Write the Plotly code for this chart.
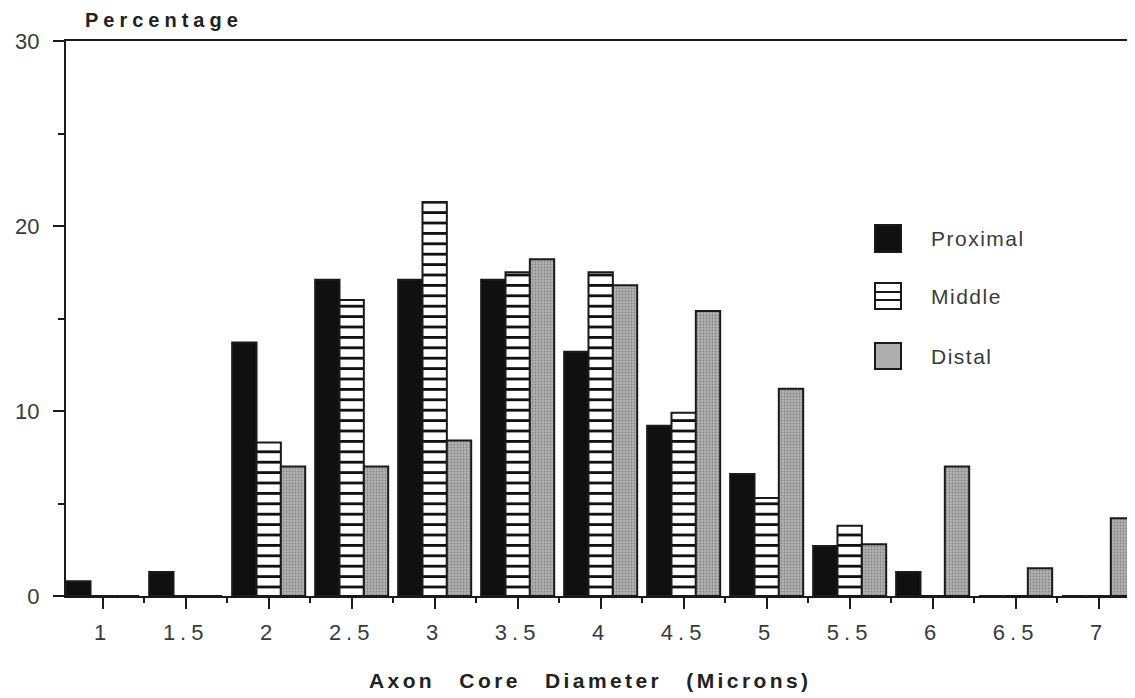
import plotly.graph_objects as go

# ---- data ----
diameters = [1, 1.5, 2, 2.5, 3, 3.5, 4, 4.5, 5, 5.5, 6, 6.5, 7]
tick_labels = ["1", "1.5", "2", "2.5", "3", "3.5", "4", "4.5", "5", "5.5", "6", "6.5", "7"]
proximal = [0.8, 1.3, 13.7, 17.1, 17.1, 17.1, 13.2, 9.2, 6.6, 2.7, 1.3, 0, 0]
middle = [0, 0, 8.3, 16.0, 21.3, 17.5, 17.5, 9.9, 5.3, 3.8, 0, 0, 0]
distal = [0, 0, 7.0, 7.0, 8.4, 18.2, 16.8, 15.4, 11.2, 2.8, 7.0, 1.5, 4.2]
series_names = ["Proximal", "Middle", "Distal"]
y_ticks = [0, 10, 20, 30]

# page has an 8px body margin: the figure is sized so it fits the window
OFF = 8
W, H = 1135 - OFF, 698 - OFF
L, R, T, B = 66 - OFF, 0, 41 - OFF, 698 - 596
PW, PH = W - L - R, H - T - B

def px(x):
    return (x - OFF - L) / PW

def py(y):
    return (H - B - (y - OFF)) / PH

FONT = "Liberation Sans, Arial, sans-serif"
INK = "#1a1a1a"
TXT = "#3a3a3a"

fig = go.Figure()
fig.add_trace(go.Bar(
    x=diameters, y=proximal, name=series_names[0],
    marker=dict(color="#101010", line=dict(color=INK, width=2)),
))
fig.add_trace(go.Bar(
    x=diameters, y=middle, name=series_names[1],
    marker=dict(color="white", line=dict(color=INK, width=2),
                pattern=dict(shape="-", fgcolor="#111111", bgcolor="white",
                             size=10.4, solidity=0.27, fillmode="replace")),
))
fig.add_trace(go.Bar(
    x=diameters, y=distal, name=series_names[2],
    marker=dict(color="#aeaeae", line=dict(color=INK, width=2),
                pattern=dict(shape=".", fgcolor="#858585", bgcolor="#b2b2b2",
                             size=3, solidity=0.28, fillmode="replace")),
))

def spaced(t, ls):
    return '<span style="letter-spacing:%spx">%s</span>' % (ls, t)

fig.update_layout(
    width=W, height=H,
    margin=dict(l=L, r=R, t=T, b=B, pad=0),
    paper_bgcolor="white", plot_bgcolor="white",
    barmode="group", bargap=0.12, bargroupgap=0,
    showlegend=False,
    font=dict(family=FONT, color=TXT, size=22),
)
fig.update_xaxes(
    range=[0.779, 7.219],
    tickmode="array", tickvals=diameters,
    ticktext=[spaced(t, 5) for t in tick_labels],
    ticks="outside", ticklen=11, tickwidth=2, tickcolor=INK,
    ticklabelstandoff=5,
    minor=dict(tickmode="linear", tick0=0.75, dtick=0.5, ticks="outside",
               ticklen=5, tickwidth=2, tickcolor=INK),
    showline=True, linewidth=2, linecolor=INK, mirror=True,
    showgrid=False, zeroline=False,
    tickfont=dict(family=FONT, size=22, color=TXT),
)
fig.update_yaxes(
    range=[0, 30],
    tickmode="array", tickvals=y_ticks, ticktext=[str(v) for v in y_ticks],
    ticks="outside", ticklen=11, tickwidth=2, tickcolor=INK,
    ticklabelstandoff=9,
    minor=dict(tickmode="linear", tick0=5, dtick=10, ticks="outside",
               ticklen=6, tickwidth=2, tickcolor=INK),
    showline=True, linewidth=2, linecolor=INK, mirror=False,
    showgrid=False, zeroline=False,
    tickfont=dict(family=FONT, size=22, color=TXT),
)

annotations = [
    dict(text="<b>" + spaced("Percentage", 5) + "</b>", x=px(83), y=py(20.5),
         xref="paper", yref="paper", xanchor="left", yanchor="middle",
         showarrow=False, font=dict(family=FONT, size=20, color="#222")),
    dict(text='<b><span style="letter-spacing:3.4px;word-spacing:15px">Axon Core Diameter (Microns)</span></b>',
         x=px(590), y=py(680), xref="paper", yref="paper",
         xanchor="center", yanchor="middle", showarrow=False,
         font=dict(family=FONT, size=21, color="#222")),
]

# manual legend (swatches + labels)
shapes = []
leg_rows = [(225, 252), (283, 309), (343, 369)]
sx0, sx1 = 875, 901
for name, (y0, y1) in zip(series_names, leg_rows):
    if name == "Proximal":
        fill = "#101010"
    elif name == "Middle":
        fill = "white"
    else:
        fill = "#aeaeae"
    shapes.append(dict(type="rect", xref="paper", yref="paper",
                       x0=px(sx0), x1=px(sx1), y0=py(y1), y1=py(y0),
                       fillcolor=fill, line=dict(color=INK, width=2)))
    if name == "Middle":
        for ly in (292, 300):
            shapes.append(dict(type="line", xref="paper", yref="paper",
                               x0=px(sx0), x1=px(sx1), y0=py(ly), y1=py(ly),
                               line=dict(color=INK, width=2)))
    annotations.append(dict(text=spaced(name, 1.5), x=px(929), y=py((y0 + y1) / 2),
                            xref="paper", yref="paper", xanchor="left",
                            yanchor="middle", showarrow=False,
                            font=dict(family=FONT, size=21, color=TXT)))

fig.update_layout(annotations=annotations, shapes=shapes)
fig.write_html("out.html")
